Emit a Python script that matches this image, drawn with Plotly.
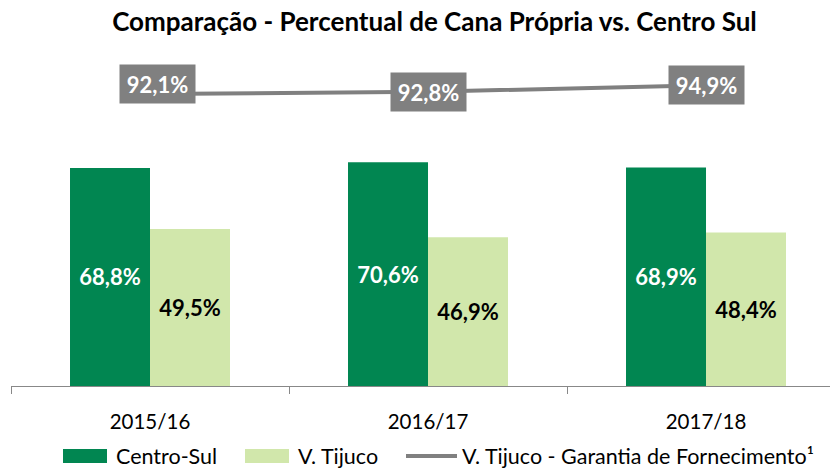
import plotly.graph_objects as go

categories = ["2015/16", "2016/17", "2017/18"]
centro_sul = [68.8, 70.6, 68.9]
v_tijuco = [49.5, 46.9, 48.4]
garantia = [92.1, 92.8, 94.9]
series_names = ["Centro-Sul", "V. Tijuco", "V. Tijuco - Garantia de Fornecimento¹"]
title_text = "Comparação - Percentual de Cana Própria vs. Centro Sul"

DARK = "#018651"
LIGHT = "#D1E7AB"
GRAY = "#808080"
FONT = "Lato"

def fmt(v):
    return f"{v:.1f}".replace(".", ",") + "%"

fig = go.Figure()
fig.add_trace(go.Bar(
    x=categories, y=centro_sul, name=series_names[0], marker_color=DARK,
    marker_line_width=0,
    text=[fmt(v) for v in centro_sul], textposition="inside",
    insidetextanchor="middle", textangle=0, constraintext="none",
    textfont=dict(family=FONT, size=22, color="white", weight="bold"),
    showlegend=False,
))
fig.add_trace(go.Bar(
    x=categories, y=v_tijuco, name=series_names[1], marker_color=LIGHT,
    marker_line_width=0,
    text=[fmt(v) for v in v_tijuco], textposition="inside",
    insidetextanchor="middle", textangle=0, constraintext="none",
    textfont=dict(family=FONT, size=22, color="black", weight="bold"),
    showlegend=False,
))
fig.add_trace(go.Scatter(
    x=categories, y=garantia, name=series_names[2], mode="lines",
    line=dict(color=GRAY, width=4), showlegend=False, yaxis="y2",
))

# value boxes for the line
label_xshift = [7, 0, 0]
label_yshift = [10, 0, 0]
for c, v, xs, ys in zip(categories, garantia, label_xshift, label_yshift):
    fig.add_annotation(
        x=c, y=v, xref="x", yref="y2", text=fmt(v), showarrow=False,
        bgcolor=GRAY, width=73, height=36, xshift=xs, yshift=ys,
        font=dict(family=FONT, size=22, color="white", weight="bold"),
    )

# manual legend (wide swatches)
L, W, B, H = 11, 819, 386, 317
def px(xp):
    return (xp - L) / W
def py(yp):
    return (B - yp) / H

legend_items = [
    (63, 107, 114, DARK, "rect"),
    (245, 289, 296, LIGHT, "rect"),
    (406, 457, 460, GRAY, "line"),
]
for (x0, x1, tx, col, kind), name in zip(legend_items, series_names):
    if kind == "rect":
        fig.add_shape(type="rect", xref="paper", yref="paper",
                      x0=px(x0), x1=px(x1), y0=py(463), y1=py(449),
                      fillcolor=col, line_width=0)
    else:
        fig.add_shape(type="line", xref="paper", yref="paper",
                      x0=px(x0), x1=px(x1), y0=py(456), y1=py(456),
                      line=dict(color=col, width=4))
    fig.add_annotation(x=px(tx), y=py(456), xref="paper", yref="paper",
                       xanchor="left", yanchor="middle", showarrow=False,
                       text=name, font=dict(family=FONT, size=21.5, color="black"))

fig.update_layout(
    width=830, height=469,
    margin=dict(l=L, r=0, t=69, b=83),
    paper_bgcolor="white", plot_bgcolor="white",
    barmode="group", bargap=0.4245, bargroupgap=0,
    title=dict(text=title_text, x=434.5 / 830, xanchor="center",
               y=1 - 22 / 469, yanchor="middle",
               font=dict(family=FONT, size=26, color="black", weight="bold")),
    font=dict(family=FONT),
    yaxis2=dict(range=[0, 99.5], overlaying="y", visible=False, showgrid=False),
)
fig.update_xaxes(
    type="category", range=[-0.5, 2.446], tickson="boundaries",
    ticks="outside", ticklen=7, tickcolor="#888888", tickwidth=1,
    showline=True, linecolor="#888888", linewidth=1,
    tickfont=dict(family=FONT, size=20.5, color="black"),
    ticklabelstandoff=17, showgrid=False,
)
fig.update_yaxes(range=[0, 100], visible=False, showgrid=False)

fig.write_html("out.html", config={"displayModeBar": False},
               post_script="document.body.style.margin='0';")
